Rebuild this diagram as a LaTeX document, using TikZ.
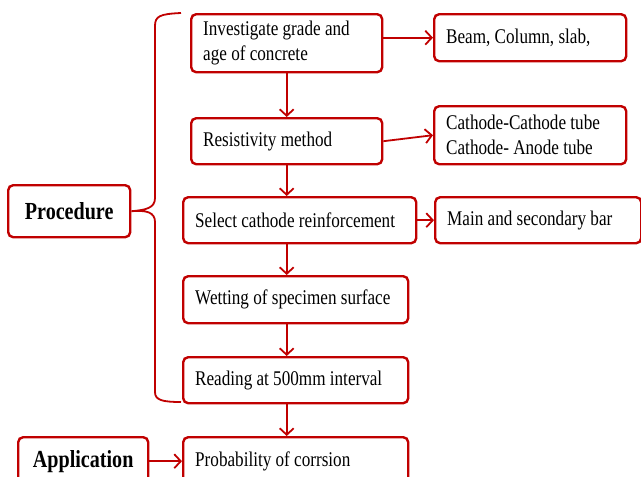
\documentclass[tikz,border=0pt]{standalone}
\usepackage{fontspec}
\setmainfont{Liberation Serif}[FakeStretch=0.82]
\usetikzlibrary{positioning, arrows.meta}
\definecolor{boxred}{RGB}{192,0,0}

\begin{document}
\begin{tikzpicture}[x=1pt, y=-1pt,
    box/.style={draw=boxred, line width=2.4pt, rounded corners=5pt, anchor=north west,
                align=flush left, inner xsep=12pt, inner ysep=0pt,
                font=\fontsize{20.9}{25}\selectfont},
    headbox/.style={box, align=flush center, font=\fontsize{24.5}{26}\selectfont\bfseries},
    arr/.style={draw=boxred, line width=1.8pt, -{Straight Barb[length=6.5pt,width=14pt]}}]
            \useasboundingbox (0,0) rectangle (641,477);

            % 1. Main column
            \node[box, text width=167pt, minimum height=58pt] (grade) at (190,13) {Investigate grade and\\age of concrete};
            \node[box, text width=167pt, minimum height=46pt] (resist) at (190,117) {Resistivity method};
            \node[box, text width=209pt, minimum height=46pt] (cathode) at (182,196) {Select cathode reinforcement};
            \node[box, text width=201pt, minimum height=47pt] (wet) at (182,275) {Wetting of specimen surface};
            \node[box, text width=201pt, minimum height=46pt] (reading) at (182,356) {Reading at 500mm interval};
            \node[box, text width=201pt, minimum height=48pt] (prob) at (182,436) {Probability of corrsion};

            % 2. Side boxes
            \node[box, text width=168pt, minimum height=47pt] (beam) at (433,13) {Beam, Column, slab,};
            \node[box, text width=168pt, minimum height=58pt] (tube) at (433,105) {Cathode-Cathode tube\\Cathode- Anode tube};
            \node[box, text width=182pt, minimum height=46pt] (bar) at (434,196) {Main and secondary bar};

            % 3. Headings
            \node[headbox, text width=98pt, minimum height=52pt] (proc) at (7,184) {Procedure};
            \node[headbox, text width=106pt, minimum height=48pt] (appl) at (17,436) {Application};

            % 4. Arrows down the column
            \draw[arr] (grade.south) -- (resist.north);
            \draw[arr] (resist.south) -- (resist.south |- cathode.north);
            \draw[arr] (resist.south |- cathode.south) -- (resist.south |- wet.north);
            \draw[arr] (resist.south |- wet.south) -- (resist.south |- reading.north);
            \draw[arr] (resist.south |- reading.south) -- (resist.south |- prob.north);

            % 5. Arrows to the side
            \draw[arr] (beam.west -| grade.east) -- (beam.west);
            \draw[arr] (resist.east) -- (tube.west);
            \draw[arr] (cathode.east) -- (bar.west);
            \draw[arr] (appl.east) -- (prob.west);

            % 6. Brace round the procedure steps
            \coordinate (btop) at (181,13);
            \coordinate (bbot) at (181,402);
            \draw[boxred, line width=1.8pt] (btop) .. controls (160,14) and (155,16) .. (155,26)
                -- (155,198) .. controls (155,208) and (146,210) .. (proc.east)
                .. controls (146,210) and (155,212) .. (155,222)
                -- (155,392) .. controls (155,400) and (162,402) .. (bbot);
        \end{tikzpicture}
\end{document}
